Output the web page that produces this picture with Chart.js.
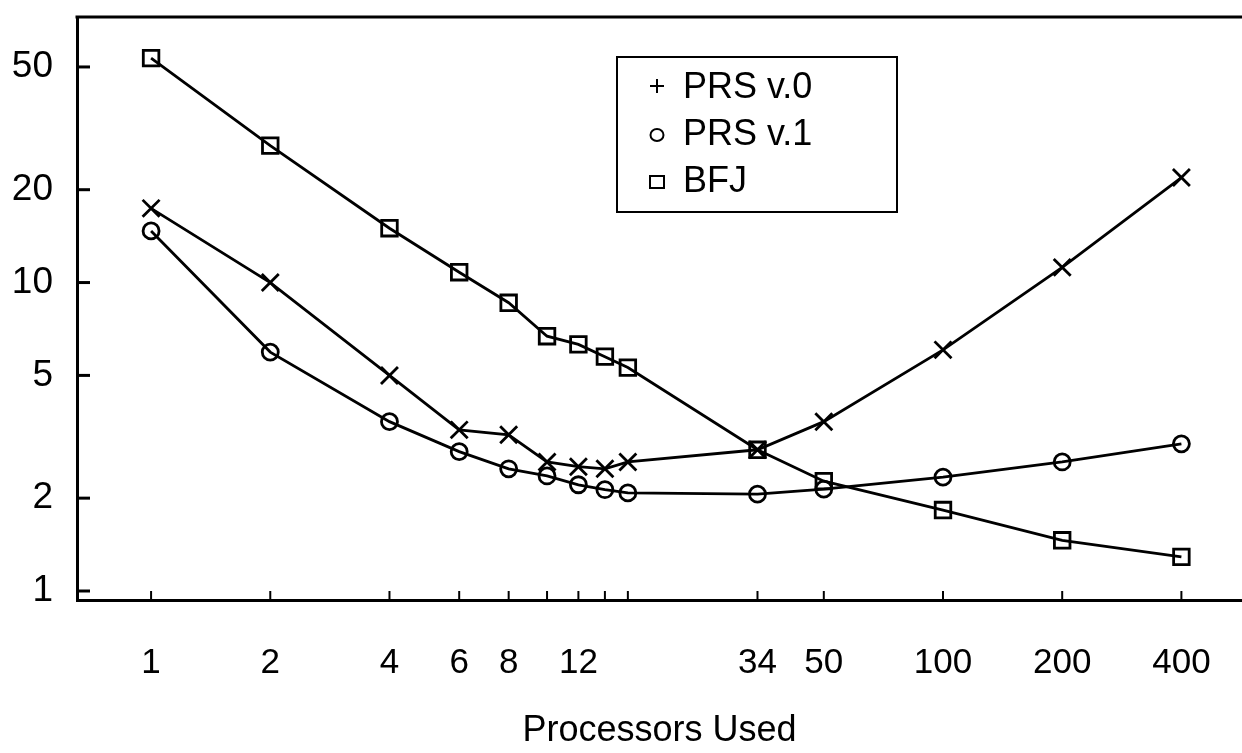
<!DOCTYPE html>
<html lang="en">
  <head>
    <meta charset="UTF-8" />
    <title>Processors Used</title>
    <style>
      html, body {
        margin: 0;
        background: #fff;
      }
    </style>
  </head>
  <body>
    <canvas id="chart" width="1242" height="753"></canvas>

    <script src="https://cdn.jsdelivr.net/npm/chart.js"></script>

    <script>
      // processors used (x) and time per series (y)
      const procs = [1, 2, 4, 6, 8, 10, 12, 14, 16, 34, 50, 100, 200, 400];
      const prsV0 = [17.4, 10.0, 5.0, 3.33, 3.21, 2.62, 2.53, 2.49, 2.62, 2.87, 3.54, 6.05, 11.2, 21.9];
      const prsV1 = [14.7, 5.95, 3.54, 2.83, 2.49, 2.36, 2.21, 2.13, 2.08, 2.06, 2.14, 2.34, 2.62, 3.0];
      const bfj = [53.4, 27.8, 15.0, 10.8, 8.6, 6.7, 6.3, 5.75, 5.3, 2.87, 2.27, 1.83, 1.46, 1.29];

      const xTicks = [1, 2, 4, 6, 8, 10, 12, 14, 16, 34, 50, 100, 200, 400];
      const xLabels = [1, 2, 4, 6, 8, 12, 34, 50, 100, 200, 400];
      const yTicks = [1, 2, 5, 10, 20, 50];

      const font = '"Liberation Sans", Arial, sans-serif';

      function toPoints(values) {
        return procs.map((p, i) => ({ x: p, y: values[i] }));
      }

      function series(label, values, pointStyle, radius, legendStyle) {
        return {
          label,
          data: toPoints(values),
          borderColor: '#000',
          backgroundColor: 'rgba(0,0,0,0)',
          borderWidth: 2.8,
          pointStyle,
          pointRadius: radius,
          pointBorderColor: '#000',
          pointBorderWidth: 2.8,
          pointBackgroundColor: 'rgba(0,0,0,0)',
          legendStyle,
          tension: 0,
        };
      }

      // inward tick marks, top rule and boxed legend
      const framePlugin = {
        id: 'frame',
        afterDraw(chart) {
          const { ctx, chartArea, scales } = chart;
          ctx.save();
          ctx.strokeStyle = '#000';
          ctx.lineCap = 'butt';

          ctx.lineWidth = 3;
          ctx.beginPath();
          ctx.moveTo(chartArea.left - 1.5, chartArea.top);
          ctx.lineTo(chartArea.right, chartArea.top);
          ctx.stroke();

          yTicks.forEach((v) => {
            const y = scales.y.getPixelForValue(v);
            ctx.beginPath();
            ctx.moveTo(chartArea.left, y);
            ctx.lineTo(chartArea.left + 13, y);
            ctx.stroke();
          });

          ctx.lineWidth = 2;
          xTicks.forEach((v) => {
            const x = scales.x.getPixelForValue(v);
            ctx.beginPath();
            ctx.moveTo(x, chartArea.bottom);
            ctx.lineTo(x, chartArea.bottom - 9);
            ctx.stroke();
          });

          // legend box
          const bx = 617, by = 57, bw = 280, bh = 155;
          ctx.lineWidth = 2;
          ctx.strokeRect(bx, by, bw, bh);
          ctx.font = '36px ' + font;
          ctx.fillStyle = '#000';
          ctx.textBaseline = 'middle';
          ctx.textAlign = 'left';
          const rows = [88, 135, 182];
          chart.data.datasets.forEach((ds, i) => {
            const cy = rows[i];
            const cx = 657;
            ctx.lineWidth = 2;
            ctx.beginPath();
            if (ds.legendStyle === 'cross') {
              ctx.moveTo(cx - 7, cy - 2);
              ctx.lineTo(cx + 7, cy - 2);
              ctx.moveTo(cx, cy - 9);
              ctx.lineTo(cx, cy + 5);
            } else if (ds.legendStyle === 'circle') {
              ctx.ellipse(cx, cy, 6.5, 6, 0, 0, Math.PI * 2);
            } else {
              ctx.rect(cx - 7, cy - 6, 14, 12);
            }
            ctx.stroke();
            ctx.fillText(ds.label, 683, cy);
          });
          ctx.restore();
        },
      };

      new Chart(document.getElementById('chart'), {
        type: 'line',
        data: {
          datasets: [
            series('PRS v.0', prsV0, 'crossRot', 12, 'cross'),
            series('PRS v.1', prsV1, 'circle', 8, 'circle'),
            series('BFJ', bfj, 'rect', 11, 'rect'),
          ],
        },
        options: {
          responsive: false,
          animation: false,
          layout: {
            autoPadding: false,
            padding: { top: 17, right: 0, left: 0, bottom: 0 },
          },
          plugins: {
            legend: { display: false },
            tooltip: { enabled: false },
          },
          scales: {
            x: {
              type: 'logarithmic',
              min: 0.65,
              max: 569,
              afterBuildTicks: (axis) => {
                axis.ticks = xTicks.map((v) => ({ value: v }));
              },
              afterFit: (axis) => {
                axis.height = 153;
                axis.paddingLeft = 0;
                axis.paddingRight = 0;
              },
              grid: { display: false, drawTicks: false },
              border: { display: true, color: '#000', width: 3 },
              ticks: {
                autoSkip: false,
                maxRotation: 0,
                padding: 42,
                color: '#000',
                font: { family: font, size: 35 },
                callback: (v) => (xLabels.includes(v) ? String(v) : ''),
              },
              title: {
                display: true,
                text: 'Processors Used',
                color: '#000',
                font: { family: font, size: 36 },
                padding: { top: 0, bottom: 0 },
              },
            },
            y: {
              type: 'logarithmic',
              min: 0.935,
              max: 72.6,
              afterBuildTicks: (axis) => {
                axis.ticks = yTicks.map((v) => ({ value: v }));
              },
              afterFit: (axis) => {
                axis.width = 77;
                axis.paddingTop = 0;
                axis.paddingBottom = 0;
              },
              grid: { display: false, drawTicks: false },
              border: { display: true, color: '#000', width: 3 },
              ticks: {
                padding: 24,
                color: '#000',
                font: { family: font, size: 37 },
                callback: (v) => String(v),
              },
            },
          },
        },
        plugins: [framePlugin],
      });
    </script>
  </body>
</html>
